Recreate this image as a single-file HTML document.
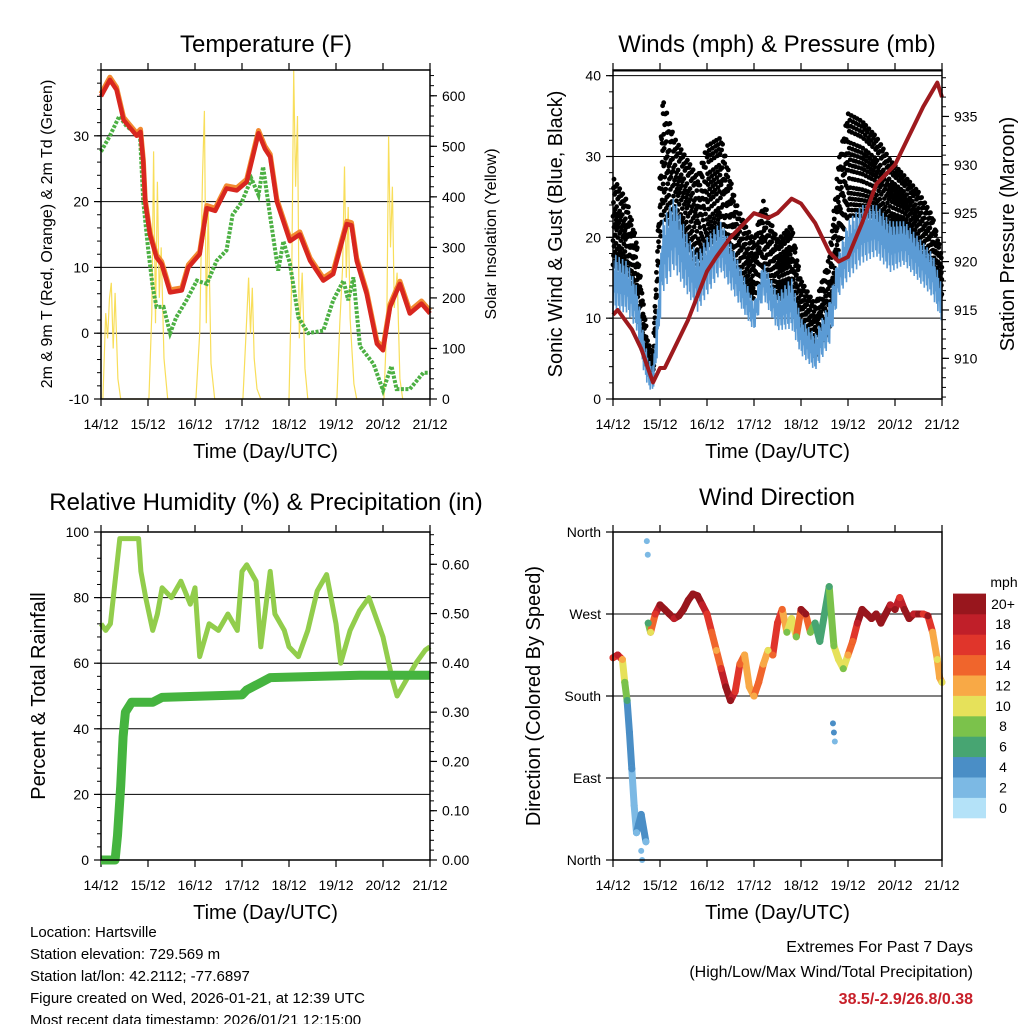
<!DOCTYPE html>
<html><head><meta charset="utf-8"><style>
html,body{margin:0;padding:0;background:#fff;}
svg{display:block;font-family:"Liberation Sans",sans-serif;}
</style></head><body>
<svg id="c" width="1024" height="1024" viewBox="0 0 1024 1024"></svg>
<script>
// ---------- DATA ----------
const dayLabels = ["14/12","15/12","16/12","17/12","18/12","19/12","20/12","21/12"];
const tempT = [0,0.19,0.33,0.48,0.76,0.84,0.9,0.94,1.04,1.18,1.29,1.47,1.72,1.86,2.1,2.25,2.43,2.67,2.89,3.1,3.35,3.49,3.6,3.74,4.02,4.23,4.45,4.73,4.94,5.23,5.33,5.44,5.65,5.87,6.0,6.15,6.36,6.57,6.82,7.0];
const tempV = [36,38.5,37,32.4,30,30.6,26,20,15,11.5,10.5,6.2,6.5,10,12,19,18.6,22,21.7,23,30.4,28,26.8,20,14,15,11,8,9,16.6,16.4,11,6,-1.6,-2.6,4,7.5,3,4.5,3];
const dewT = [0,0.19,0.39,0.55,0.83,0.9,1.0,1.1,1.18,1.33,1.47,1.6,1.82,2.04,2.25,2.46,2.67,2.8,3.0,3.2,3.35,3.45,3.6,3.77,3.88,4.02,4.2,4.41,4.73,4.94,5.16,5.26,5.37,5.51,5.8,6.0,6.18,6.29,6.57,6.86,7.0];
const dewV = [27.6,30,33,31.4,30,20,13,7,4,4,0,2.4,5,8,7.5,11,12.6,18,20,23.5,21,25.3,17.7,9.5,14,10.6,2.4,0,0.4,5,8,5,8.5,-2,-4.7,-8.7,-5,-8.5,-8.5,-6,-6];
const solarT = [0.04,0.1,0.14,0.18,0.22,0.26,0.3,0.36,0.42, 1.02,1.08,1.12,1.16,1.2,1.24,1.28,1.34,1.42, 2.02,2.1,2.16,2.2,2.24,2.28,2.34,2.42, 3.02,3.08,3.14,3.18,3.22,3.26,3.32,3.4, 4.0,4.06,4.1,4.14,4.18,4.22,4.28,4.34,4.4, 5.02,5.08,5.14,5.18,5.22,5.26,5.3,5.38,5.44, 6.02,6.08,6.12,6.16,6.2,6.24,6.3,6.36,6.42];
const solarV = [0,170,120,200,230,100,210,40,0, 0,170,490,150,430,200,300,80,0, 0,130,440,570,150,380,70,0, 0,120,240,130,220,80,20,0, 0,250,650,420,560,120,250,60,0, 0,150,260,460,240,380,160,30,0, 0,150,520,300,420,180,250,40,0];
const windT = [0,0.3,0.5,0.65,0.75,0.85,0.95,1.05,1.3,1.6,1.8,2.0,2.3,2.6,2.8,3.0,3.2,3.5,3.8,4.0,4.3,4.6,4.8,5.0,5.3,5.6,5.9,6.2,6.5,6.8,7.0];
const windLo = [10,10,8,3,1,0.5,5,12,15,12,10,12,15,12,10,8,12,8,8,5,3,6,12,14,16,17,15,16,14,12,9];
const windHi = [18,17,14,8,5,4,12,22,25,20,18,20,22,18,15,12,17,13,15,10,8,12,18,22,24,24,22,22,20,18,14];
const gustLo = [16,15,12,5,3,2,12,22,20,18,16,18,20,15,13,12,15,12,12,8,5,8,18,22,22,22,20,20,18,15,12];
const gustHi = [28,25,20,12,7,6,20,38,33,30,28,32,33,25,22,20,25,20,22,15,12,18,30,36,35,33,30,28,26,23,18];
const presT = [0,0.1,0.4,0.6,0.85,1.0,1.1,1.3,1.6,2.0,2.2,2.5,2.8,3.0,3.3,3.5,3.8,4.0,4.3,4.6,4.8,5.0,5.3,5.6,6.0,6.3,6.6,6.9,7.0];
const presV = [914.5,915,913,911,907.5,909,909,911,914,919,920.5,922.5,924,925,924.5,925,926.5,926,924,921,920,920.5,924,928,930,933,936,938.5,937];
const rhT = [0,0.1,0.2,0.3,0.4,0.5,0.8,0.85,0.95,1.1,1.2,1.3,1.5,1.7,1.9,2.0,2.1,2.3,2.5,2.7,2.9,3.0,3.1,3.3,3.4,3.6,3.7,3.9,4.0,4.2,4.4,4.6,4.8,5.0,5.1,5.3,5.5,5.7,5.9,6.0,6.2,6.3,6.5,6.7,6.9,7.0];
const rhV = [72,70,72,85,98,98,98,88,80,70,75,83,80,85,78,83,62,72,70,75,70,88,90,85,65,88,75,70,65,62,70,82,87,72,60,70,76,80,72,68,55,50,55,60,64,65];
const rainT = [0,0.3,0.35,0.42,0.47,0.52,0.65,1.1,1.3,3.0,3.1,3.4,3.6,5.5,7.0];
const rainV = [0,0,0.05,0.15,0.25,0.3,0.32,0.32,0.33,0.335,0.345,0.36,0.37,0.375,0.375];
const dirT = [0,0.1,0.2,0.25,0.3,0.35,0.4,0.45,0.5,0.55,0.6,0.7,0.75,0.8,0.9,1.0,1.1,1.2,1.3,1.4,1.5,1.6,1.7,1.8,1.9,2.0,2.1,2.2,2.3,2.4,2.5,2.6,2.7,2.8,2.9,3.0,3.1,3.2,3.3,3.4,3.5,3.6,3.7,3.8,3.9,4.0,4.1,4.2,4.3,4.4,4.5,4.6,4.7,4.8,4.9,5.0,5.1,5.2,5.3,5.4,5.5,5.6,5.7,5.8,5.9,6.0,6.1,6.2,6.3,6.4,6.5,6.6,6.7,6.8,6.9,6.95,7.0];
const dirV = [222,225,220,195,175,140,100,60,30,40,50,20,260,250,270,280,275,270,265,268,275,285,292,290,280,270,250,230,210,190,175,185,215,225,190,180,195,215,230,225,260,275,250,265,245,275,270,250,260,240,270,300,235,220,210,225,240,260,275,270,265,270,260,270,280,275,288,275,265,270,270,270,268,250,220,200,195];
const dirS = [16,18,12,8,6,3,3,2,2,4,4,2,6,10,16,20,20,20,18,20,20,20,20,20,18,16,14,12,16,20,20,16,14,12,12,12,14,12,10,14,16,14,8,10,8,20,20,8,6,6,6,6,8,10,8,12,14,18,20,20,20,20,20,20,18,20,16,20,20,18,20,16,20,12,10,12,10];
const extraDirT = [0.72,0.74,4.68,4.7,4.72,0.6,0.62];
const extraDirV = [350,335,150,140,130,10,0];
const extraDirS = [2,2,3,3,2,2,1];
const cbLabels = ["0","2","4","6","8","10","12","14","16","18","20+"];
const cbColors = ["#b4e2f8","#7cb9e4","#4a8ec6","#47a572","#7bc24b","#e6e15a","#f8a946","#f0652c","#e0352b","#c01f29","#98161d"];

const svg = document.getElementById('c');
const NS = 'http://www.w3.org/2000/svg';
function mk(tag, attrs, parent){const e=document.createElementNS(NS,tag);for(const k in attrs)e.setAttribute(k,attrs[k]);(parent||svg).appendChild(e);return e;}
function txt(s,x,y,size,anchor,parent,rot,extra){const t=mk('text',Object.assign({x:x,y:y,'font-size':size,'text-anchor':anchor||'middle',fill:'#000'},extra||{}),parent);if(rot)t.setAttribute('transform','rotate('+rot+' '+x+' '+y+')');t.textContent=s;return t;}

const P = {
 temp:{x0:101,x1:430,y0:70,y1:399},
 wind:{x0:613,x1:942,y0:70,y1:399},
 rh:{x0:101,x1:430,y0:532,y1:860},
 dir:{x0:613,x1:942,y0:532,y1:860}
};
function xs(p,t){return p.x0+(p.x1-p.x0)*t/7;}
function ys(p,v,lo,hi){return p.y1-(p.y1-p.y0)*(v-lo)/(hi-lo);}

function frame(p,name){
 const g=mk('g',{},svg);
 
 
 for(let d=0;d<=7;d++){const x=xs(p,d);
  mk('line',{x1:x,x2:x,y1:p.y1,y2:p.y1+7,stroke:'#000','stroke-width':1.2},g);
  mk('line',{x1:x,x2:x,y1:p.y0,y2:p.y0-7,stroke:'#000','stroke-width':1.2},g);
  const t=txt(dayLabels[d],x,p.y1+30,14,'middle',g);
  
  
 }
 const t=txt('Time (Day/UTC)',(p.x0+p.x1)/2,p.y1+59,20,'middle',g);
 
 
 return g;
}
function border(p){mk('rect',{x:p.x0,y:p.y0,width:p.x1-p.x0,height:p.y1-p.y0,fill:'none',stroke:'#000','stroke-width':1.5});}
function yAxis(p,g,side,lo,hi,ticks,labels,minorStep,grid){
 ticks.forEach((v,i)=>{const y=ys(p,v,lo,hi);
  if(side==='L'){mk('line',{x1:p.x0-7,x2:p.x0,y1:y,y2:y,stroke:'#000','stroke-width':1.2},g);
   const t=txt(labels[i],p.x0-12,y+5,14,'end',g);}
  else{mk('line',{x1:p.x1,x2:p.x1+7,y1:y,y2:y,stroke:'#000','stroke-width':1.2},g);
   const t=txt(labels[i],p.x1+12,y+5,14,'start',g);}
  if(grid&&grid.indexOf(v)>=0) mk('line',{x1:p.x0,x2:p.x1,y1:y,y2:y,stroke:'#000','stroke-width':1},g);
 });
 if(minorStep){for(let v=Math.ceil(lo/minorStep)*minorStep;v<=hi;v+=minorStep){const y=ys(p,v,lo,hi);
  if(side==='L')mk('line',{x1:p.x0-4,x2:p.x0,y1:y,y2:y,stroke:'#000','stroke-width':1},g);
  else mk('line',{x1:p.x1,x2:p.x1+4,y1:y,y2:y,stroke:'#000','stroke-width':1},g);}}
}
function pts(p,T,V,lo,hi){return T.map((t,i)=>xs(p,t).toFixed(1)+','+ys(p,V[i],lo,hi).toFixed(1)).join(' ');}
function interp(T,V,t){for(let i=0;i<T.length-1;i++){if(t<=T[i+1]){const f=(t-T[i])/(T[i+1]-T[i]);return V[i]+f*(V[i+1]-V[i]);}}return V[V.length-1];}

// ===== Panel 1 =====
{const p=P.temp;const g=frame(p,'temperature');
 const tl=txt('Temperature (F)',266,52,24,'middle');
 yAxis(p,g,'L',-10,40,[-10,0,10,20,30],["-10","0","10","20","30"],2,[0,10,20,30]);
 yAxis(p,g,'R',0,651,[0,100,200,300,400,500,600],["0","100","200","300","400","500","600"],20,[]);
 const sol=mk('polyline',{points:pts(p,solarT,solarV,0,651),fill:'none',stroke:'#f8de5a','stroke-width':1.2});
 
 const dew=mk('polyline',{points:pts(p,dewT,dewV,-10,40),fill:'none',stroke:'#4cb043','stroke-width':4,'stroke-dasharray':'3 1.5'});
 
 const t9=mk('polyline',{points:pts(p,tempT,tempV.map(v=>v+0.4),-10,40),fill:'none',stroke:'#f28a30','stroke-width':5,'stroke-linejoin':'round'});
 
 const t2=mk('polyline',{points:pts(p,tempT,tempV,-10,40),fill:'none',stroke:'#d8261f','stroke-width':4.5,'stroke-linejoin':'round'});
 
 border(p);
 const a=txt('2m & 9m T (Red, Orange) & 2m Td (Green)',52,234,16,'middle',svg,-90);
 const b=txt('Solar Insolation (Yellow)',496,234,16,'middle',svg,-90);
}
// ===== Panel 2 =====
{const p=P.wind;const g=frame(p,'winds');
 const tl=txt('Winds (mph) & Pressure (mb)',777,52,24,'middle');
 yAxis(p,g,'L',0,40.7,[0,10,20,30,40],["0","10","20","30","40"],2,[10,20,30,40]);
 mk('line',{x1:p.x0,x2:p.x1,y1:p.y0+1,y2:p.y0+1,stroke:'#000','stroke-width':1},g);
 yAxis(p,g,'R',905.8,939.8,[910,915,920,925,930,935],["910","915","920","925","930","935"],1,[]);
 const gg=mk('g',{});
 const fr=[0.05,0.55,0.3,0.85,0.15,0.7,0.45,0.95,0.25,0.6,0.1,0.8,0.38,0.65,0.2,0.5,0.9];
 let k=0;
 for(let t=0;t<=7;t+=0.011){
  const lo=interp(windT,gustLo,t),hi=interp(windT,gustHi,t);
  for(let j=0;j<3;j++){const f=fr[(k++)%fr.length];
   const c=mk('circle',{cx:xs(p,t).toFixed(1),cy:ys(p,lo+(hi-lo)*f,0,40.7).toFixed(1),r:2.4,fill:'#000'},gg);
   
   }
 }
 const wp=[];let s=0;
 for(let t=0;t<=7;t+=0.012){const lo=interp(windT,windLo,t),hi=interp(windT,windHi,t);
  const f=[0.1,0.9,0.4,0.75,0.2,1.0][s++%6];
  wp.push(xs(p,t).toFixed(1)+','+ys(p,lo+(hi-lo)*f,0,40.7).toFixed(1));}
 const wb=mk('polyline',{points:wp.join(' '),fill:'none',stroke:'#5b9bd5','stroke-width':1.6});
 
 const pr=mk('polyline',{points:pts(p,presT,presV,905.8,939.8),fill:'none',stroke:'#9e1a1e','stroke-width':4,'stroke-linejoin':'round'});
 
 border(p);
 const a=txt('Sonic Wind & Gust (Blue, Black)',562,234,20,'middle',svg,-90);
 const b=txt('Station Pressure (Maroon)',1014,234,20,'middle',svg,-90);
}
// ===== Panel 3 =====
{const p=P.rh;const g=frame(p,'humidity');
 const tl=txt('Relative Humidity (%) & Precipitation (in)',266,510,24,'middle');
 yAxis(p,g,'L',0,100,[0,20,40,60,80,100],["0","20","40","60","80","100"],4,[20,40,60,80]);
 yAxis(p,g,'R',0,0.6655,[0,0.1,0.2,0.3,0.4,0.5,0.6],["0.00","0.10","0.20","0.30","0.40","0.50","0.60"],0.02,[]);
 const rh=mk('polyline',{points:pts(p,rhT,rhV,0,100),fill:'none',stroke:'#92cd4c','stroke-width':5,'stroke-linejoin':'round'});
 
 const rn=mk('polyline',{points:pts(p,rainT,rainV,0,0.6655),fill:'none',stroke:'#45b43f','stroke-width':9,'stroke-linejoin':'round'});
 
 border(p);
 const a=txt('Percent & Total Rainfall',45,696,20,'middle',svg,-90);
}
// ===== Panel 4 =====
{const p=P.dir;const g=frame(p,'wind-direction');
 const tl=txt('Wind Direction',777,505,24,'middle');
 yAxis(p,g,'L',0,360,[0,90,180,270,360],["North","East","South","West","North"],0,[90,180,270]);
 function col(s){const i=Math.min(10,Math.max(0,Math.round(s/2)));return cbColors[i];}
 const sg=mk('g',{});
 
 for(let i=0;i<dirT.length-1;i++){
  if(Math.abs(dirV[i+1]-dirV[i])>90)continue;
  const seg=mk('line',{x1:xs(p,dirT[i]),y1:ys(p,dirV[i],0,360),x2:xs(p,dirT[i+1]),y2:ys(p,dirV[i+1],0,360),stroke:col((dirS[i]+dirS[i+1])/2),'stroke-width':7,'stroke-linecap':'round'},sg);
  
  
 }
 dirT.forEach((t,i)=>{const c=mk('circle',{cx:xs(p,t),cy:ys(p,dirV[i],0,360),r:3.5,fill:col(dirS[i])},sg);
  
  });
 extraDirT.forEach((t,i)=>{const c=mk('circle',{cx:xs(p,t),cy:ys(p,extraDirV[i],0,360),r:3,fill:col(extraDirS[i])},sg);
  
  });
 border(p);
 const a=txt('Direction (Colored By Speed)',540,696,20,'middle',svg,-90);
 const cb=mk('g',{});
 const bh=20.4;
 cbColors.forEach((c,i)=>{const y=818-(i+1)*bh;mk('rect',{x:953,y:y,width:33,height:bh+0.3,fill:c},cb);
  const t=txt(cbLabels[i],1003,y+bh/2+5,14,'middle',cb);});
 const m=txt('mph',1004,587,14,'middle',cb);
}
// ===== Footer =====
{const lines=["Location: Hartsville","Station elevation: 729.569 m","Station lat/lon: 42.2112; -77.6897","Figure created on Wed, 2026-01-21, at 12:39 UTC","Most recent data timestamp: 2026/01/21 12:15:00"];
 lines.forEach((s,i)=>{const t=txt(s,30,937+i*22,15,'start');});
 const a=txt('Extremes For Past 7 Days',973,952,16,'end');
 const b=txt('(High/Low/Max Wind/Total Precipitation)',973,977,16,'end');
 const c=txt('38.5/-2.9/26.8/0.38',973,1004,16,'end',svg,0,{fill:'#c8202a','font-weight':'bold'});
}
</script>
</body></html>
